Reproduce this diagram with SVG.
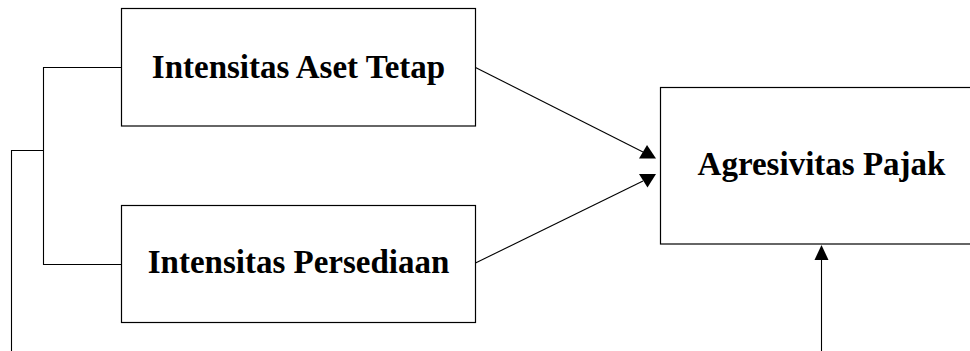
<svg xmlns="http://www.w3.org/2000/svg" width="970" height="351" viewBox="0 0 970 351">
<style>
.box{fill:#fff;stroke:#000;stroke-width:1.2}
.lbl{font-family:"Liberation Serif","Times New Roman",serif;font-weight:bold;font-size:33px;fill:#000;text-anchor:middle}
.ln{fill:none;stroke:#000;stroke-width:1.1}
.ah{fill:#000;stroke:none}
</style>
<rect width="970" height="351" fill="#fff"/>
<g id="connectors">
<polyline class="ln" points="121.5,67.5 43.5,67.5 43.5,264.5 121.5,264.5"/>
<polyline class="ln" points="43.5,150.5 11.5,150.5 11.5,351"/>
<line class="ln" x1="475.5" y1="67.5" x2="643" y2="152"/>
<polygon class="ah" points="647,145 656,158.5 639,158.5"/>
<line class="ln" x1="475.5" y1="263" x2="643" y2="181"/>
<polygon class="ah" points="639,174 656,174 647.5,187.5"/>
<line class="ln" x1="821.5" y1="351" x2="821.5" y2="258"/>
<polygon class="ah" points="821.5,245 828.5,260 814.5,260"/>
</g>
<g id="node-aset">
<rect class="box" x="121.5" y="8.5" width="354" height="117.5"/>
<text class="lbl" x="298.5" y="77.5">Intensitas Aset Tetap</text>
</g>
<g id="node-persediaan">
<rect class="box" x="121.5" y="205.5" width="354" height="117"/>
<text class="lbl" x="298.5" y="273">Intensitas Persediaan</text>
</g>
<g id="node-agresivitas">
<rect class="box" x="660.5" y="87.5" width="320" height="156.5"/>
<text class="lbl" x="821.5" y="175">Agresivitas Pajak</text>
</g>
</svg>
